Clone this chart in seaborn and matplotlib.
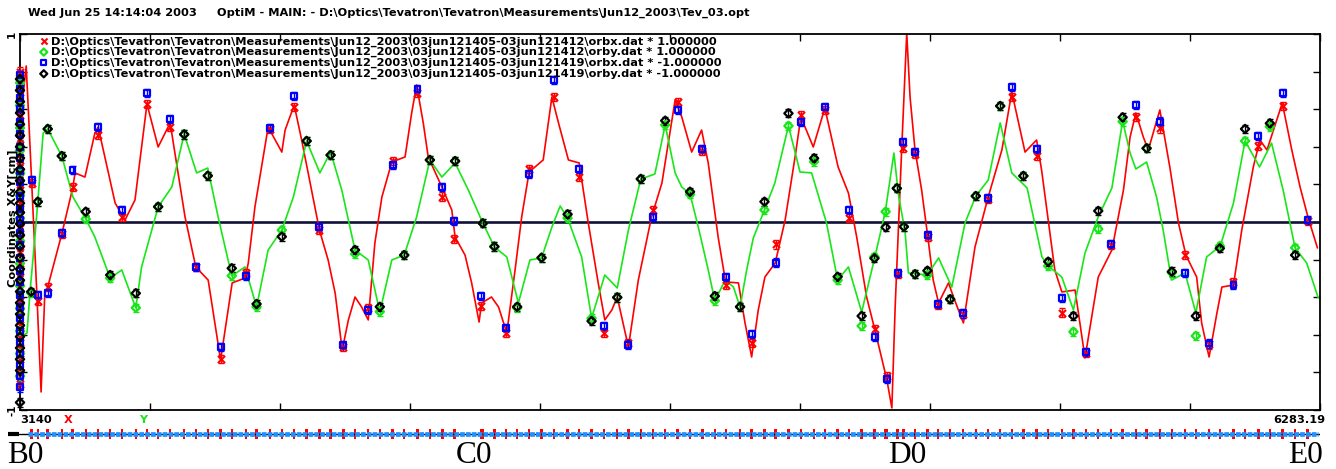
import matplotlib
matplotlib.use("Agg")
import matplotlib.pyplot as plt
import matplotlib.transforms as mtransforms
import numpy as np
import seaborn as sns

sns.set_style("white")
plt.rcParams["font.family"] = ["DejaVu Sans"]
plt.rcParams["text.color"] = "black"
plt.rcParams["lines.scale_dashes"] = False

# ------------------------------------------------------------------
# data
# ------------------------------------------------------------------
s_start, s_end = 3140.0, 6283.19

# horizontal BPMs: red x = orbx 121412 (*1), blue square = orbx 121419 (*-1)
h_bpm_s = [3168, 3184, 3207, 3241, 3267, 3328, 3387, 3447, 3503, 3565,
           3625, 3686, 3744, 3803, 3864, 3922, 3981, 4041, 4101, 4161,
           4189, 4255, 4315, 4371, 4431, 4492, 4552, 4611, 4670, 4730,
           4790, 4847, 4909, 4967, 5028, 5086, 5145, 5207, 5236, 5262,
           5276, 5304, 5335, 5360, 5420, 5481, 5538, 5598, 5659, 5717,
           5778, 5838, 5896, 5957, 6015, 6074, 6134, 6193, 6253]
h_x_a = [0.209, -0.419, -0.347, -0.064, 0.188, 0.463, 0.028, 0.628, 0.507, -0.241,
         -0.730, -0.270, 0.493, 0.610, -0.043, -0.663, -0.459, 0.326, 0.685, 0.135,
         -0.092, -0.447, -0.589, 0.280, 0.666, 0.241, -0.589, -0.645, 0.064, 0.640,
         0.379, -0.335, -0.645, -0.119, 0.569, 0.596, 0.020, -0.569, -0.819, -0.278,
         0.392, 0.362, -0.078, -0.441, -0.491, 0.121, 0.666, 0.351, -0.482, -0.695,
         -0.122, 0.557, 0.498, -0.176, -0.651, -0.318, 0.404, 0.617, 0.007]
h_x_b = [0.223, -0.388, -0.379, -0.057, 0.277, 0.504, 0.064, 0.685, 0.546, -0.238,
         -0.666, -0.287, 0.499, 0.670, -0.025, -0.654, -0.468, 0.303, 0.706, 0.185,
         0.007, -0.392, -0.565, 0.254, 0.755, 0.282, -0.553, -0.652, 0.025, 0.596,
         0.387, -0.294, -0.597, -0.216, 0.530, 0.610, 0.064, -0.610, -0.837, -0.272,
         0.427, 0.371, -0.071, -0.436, -0.486, 0.126, 0.720, 0.388, -0.403, -0.690,
         -0.117, 0.622, 0.534, -0.270, -0.646, -0.335, 0.457, 0.688, 0.012]

# vertical BPMs: green diamond = orby 121412 (*1), black diamond = orby 121419 (*-1)
v_bpm_s = [3167, 3183, 3207, 3241, 3299, 3358, 3420, 3474, 3537, 3594,
           3652, 3712, 3773, 3833, 3891, 3950, 4010, 4069, 4131, 4192,
           4259, 4287, 4342, 4401, 4464, 4522, 4584, 4641, 4700, 4760,
           4820, 4881, 4940, 4998, 5060, 5117, 5175, 5206, 5233, 5260,
           5277, 5304, 5334, 5389, 5451, 5510, 5566, 5626, 5687, 5747,
           5806, 5864, 5925, 5983, 6041, 6102, 6162, 6223]
v_y_a = [-0.378, 0.108, 0.495, 0.351, 0.016, -0.299, -0.456, 0.081, 0.466, 0.246,
         -0.286, -0.451, -0.043, 0.431, 0.356, -0.170, -0.477, -0.176, 0.330, 0.324,
         -0.007, -0.131, -0.457, -0.190, 0.021, -0.512, -0.401, 0.229, 0.516, 0.147,
         -0.419, -0.451, 0.064, 0.511, 0.321, -0.309, -0.553, -0.185, 0.055, 0.179,
         -0.025, -0.278, -0.282, -0.411, 0.138, 0.617, 0.245, -0.234, -0.584, -0.037,
         0.534, 0.392, -0.270, -0.606, -0.128, 0.431, 0.507, -0.137]
v_y_b = [-0.371, 0.108, 0.495, 0.351, 0.055, -0.282, -0.379, 0.081, 0.466, 0.246,
         -0.246, -0.436, -0.078, 0.431, 0.356, -0.149, -0.451, -0.176, 0.330, 0.324,
         -0.007, -0.131, -0.451, -0.190, 0.041, -0.527, -0.401, 0.229, 0.539, 0.161,
         -0.394, -0.451, 0.108, 0.578, 0.339, -0.291, -0.500, -0.193, -0.028, 0.179,
         -0.025, -0.278, -0.259, -0.411, 0.138, 0.617, 0.245, -0.211, -0.500, 0.059,
         0.557, 0.392, -0.264, -0.500, -0.140, 0.495, 0.525, -0.176]

# BPMs without a position in the file end up stacked at the left edge
edge_x_a = [0.80, 0.74, 0.69, 0.63, 0.57, 0.50, 0.44, 0.37, 0.30, 0.24, 0.17, 0.10, 0.04, -0.03,
            -0.09, -0.16, -0.22, -0.29, -0.35, -0.42, -0.48, -0.55, -0.61, -0.67, -0.73, -0.80, -0.86]
edge_x_b = [0.78, 0.71, 0.66, 0.60, 0.53, 0.47, 0.40, 0.34, 0.27, 0.21, 0.14, 0.07, 0.01, -0.06,
            -0.12, -0.19, -0.26, -0.32, -0.39, -0.45, -0.51, -0.58, -0.64, -0.70, -0.76, -0.82, -0.88]
edge_y_a = [0.74, 0.62, 0.50, 0.38, 0.26, 0.14, 0.02, -0.10, -0.22, -0.34, -0.46, -0.58, -0.70, -0.82]
edge_y_b = [0.76, 0.70, 0.64, 0.58, 0.52, 0.46, 0.40, 0.34, 0.28, 0.22, 0.16, 0.10, 0.05, -0.01,
            -0.07, -0.13, -0.19, -0.25, -0.31, -0.37, -0.43, -0.49, -0.55, -0.61, -0.67, -0.73,
            -0.79, -0.96]

meas_err = 0.022

# model orbit (OptiM fit), X in red
model_x_s = [3141, 3155, 3159, 3168, 3180, 3191, 3200, 3207, 3241, 3268,
             3273, 3297, 3321, 3329, 3370, 3394, 3418, 3447, 3474, 3503,
             3539, 3565, 3595, 3625, 3653, 3684, 3692, 3708, 3740, 3757,
             3773, 3781, 3803, 3821, 3845, 3864, 3885, 3902, 3919, 3934,
             3950, 3966, 3982, 3998, 4015, 4039, 4071, 4087, 4099, 4115,
             4127, 4160, 4184, 4192, 4216, 4232, 4250, 4256, 4280, 4297,
             4317, 4337, 4353, 4371, 4405, 4426, 4442, 4466, 4492, 4514,
             4538, 4554, 4571, 4584, 4611, 4635, 4667, 4692, 4724, 4740,
             4764, 4788, 4804, 4828, 4846, 4877, 4893, 4909, 4925, 4941,
             4966, 4990, 5014, 5028, 5058, 5086, 5118, 5143, 5163, 5187,
             5207, 5236, 5248, 5256, 5272, 5284, 5292, 5304, 5320, 5335,
             5348, 5361, 5385, 5397, 5421, 5449, 5481, 5514, 5538, 5570,
             5598, 5610, 5642, 5659, 5691, 5715, 5747, 5780, 5808, 5824,
             5838, 5856, 5868, 5896, 5920, 5941, 5959, 5985, 5997, 6015,
             6034, 6046, 6074, 6094, 6122, 6138, 6155, 6192, 6215, 6235,
             6254, 6277]
model_x = [0.543, 0.830, 0.649, 0.223, -0.346, -0.904, -0.378, -0.346, -0.064, 0.186,
           0.261, 0.239, 0.473, 0.505, 0.101, 0.011, 0.117, 0.628, 0.399, 0.527,
           0.027, -0.239, -0.309, -0.734, -0.324, -0.298, -0.218, 0.080, 0.505, 0.436,
           0.372, 0.489, 0.622, 0.436, 0.170, -0.043, -0.202, -0.378, -0.681, -0.521,
           -0.399, -0.452, -0.521, -0.112, 0.133, 0.319, 0.346, 0.580, 0.729, 0.527,
           0.346, 0.186, 0.064, -0.080, -0.176, -0.324, -0.532, -0.431, -0.399, -0.452,
           -0.590, -0.255, 0.027, 0.266, 0.330, 0.665, 0.527, 0.330, 0.314, -0.005,
           -0.324, -0.521, -0.468, -0.399, -0.665, -0.309, 0.027, 0.207, 0.649, 0.559,
           0.372, 0.489, 0.314, -0.080, -0.319, -0.324, -0.537, -0.718, -0.468, -0.293,
           -0.218, 0.011, 0.346, 0.559, 0.399, 0.606, 0.293, 0.154, -0.080, -0.399,
           -0.574, -0.840, -0.989, -0.452, 0.399, 1.005, 0.665, 0.383, 0.170, -0.080,
           -0.309, -0.431, -0.324, -0.399, -0.537, -0.133, 0.133, 0.383, 0.691, 0.372,
           0.436, 0.277, -0.255, -0.372, -0.362, -0.723, -0.293, -0.149, 0.170, 0.452,
           0.580, 0.452, 0.383, 0.596, 0.293, -0.005, -0.176, -0.293, -0.537, -0.718,
           -0.484, -0.346, -0.335, -0.043, 0.293, 0.436, 0.383, 0.633, 0.383, 0.186,
           0.027, -0.138]

# model orbit, Y in green
model_y_s = [3150, 3157, 3164, 3176, 3183, 3196, 3207, 3241, 3268, 3299,
             3321, 3358, 3386, 3420, 3434, 3474, 3507, 3537, 3567, 3594,
             3619, 3652, 3684, 3712, 3740, 3773, 3801, 3833, 3865, 3891,
             3918, 3950, 3982, 4010, 4039, 4069, 4099, 4131, 4160, 4192,
             4224, 4259, 4287, 4317, 4345, 4373, 4401, 4426, 4446, 4464,
             4498, 4522, 4554, 4584, 4611, 4641, 4675, 4700, 4724, 4740,
             4760, 4780, 4804, 4820, 4845, 4865, 4881, 4897, 4913, 4940,
             4965, 4998, 5026, 5054, 5090, 5117, 5143, 5175, 5207, 5232,
             5253, 5264, 5280, 5288, 5334, 5361, 5393, 5425, 5451, 5481,
             5510, 5538, 5575, 5611, 5626, 5659, 5687, 5715, 5747, 5780,
             5806, 5824, 5838, 5864, 5888, 5904, 5924, 5957, 5983, 6009,
             6042, 6074, 6102, 6137, 6166, 6194, 6223, 6251, 6279]
model_y = [-0.601, -0.590, -0.378, -0.080, 0.106, 0.473, 0.495, 0.351, 0.133, 0.016,
           -0.080, -0.298, -0.255, -0.457, -0.239, 0.080, 0.186, 0.468, 0.261, 0.287,
           0.027, -0.287, -0.239, -0.452, -0.149, -0.043, 0.133, 0.431, 0.261, 0.372,
           0.170, -0.149, -0.202, -0.479, -0.202, -0.176, 0.027, 0.330, 0.239, 0.314,
           0.170, -0.005, -0.133, -0.186, -0.431, -0.202, -0.191, -0.027, 0.085, 0.021,
           -0.186, -0.511, -0.282, -0.351, -0.043, 0.229, 0.255, 0.516, 0.261, 0.186,
           0.149, -0.027, -0.255, -0.420, -0.309, -0.346, -0.452, -0.255, -0.085, 0.064,
           0.207, 0.511, 0.266, 0.261, -0.005, -0.309, -0.239, -0.479, -0.186, 0.053,
           0.367, 0.144, -0.053, -0.271, -0.282, -0.191, -0.346, -0.005, 0.138, 0.223,
           0.527, 0.261, 0.181, -0.186, -0.234, -0.293, -0.468, -0.165, 0.027, 0.181,
           0.537, 0.367, 0.282, 0.319, 0.133, -0.043, -0.309, -0.271, -0.484, -0.186,
           -0.128, 0.101, 0.431, 0.293, 0.420, 0.170, -0.138, -0.218, -0.404]

# sector names under the lattice strip
sector_names = ["B0", "C0", "D0", "E0"]
sector_s = [3152, 4238, 5285, 6247]

legend_labels = [
    r"D:\Optics\Tevatron\Tevatron\Measurements\Jun12_2003\03jun121405-03jun121412\orbx.dat * 1.000000",
    r"D:\Optics\Tevatron\Tevatron\Measurements\Jun12_2003\03jun121405-03jun121412\orby.dat * 1.000000",
    r"D:\Optics\Tevatron\Tevatron\Measurements\Jun12_2003\03jun121405-03jun121419\orbx.dat * -1.000000",
    r"D:\Optics\Tevatron\Tevatron\Measurements\Jun12_2003\03jun121405-03jun121419\orby.dat * -1.000000",
]
title = (r"Wed Jun 25 14:14:04 2003     OptiM - MAIN: - "
         r"D:\Optics\Tevatron\Tevatron\Measurements\Jun12_2003\Tev_03.opt")

RED, GREEN, BLUE, BLACK = "#ff0000", "#19e619", "#0000ff", "#000000"
FS = 8.2

# ------------------------------------------------------------------
W, H = 1336, 469
fig = plt.figure(figsize=(W / 100, H / 100), dpi=100)
ax = fig.add_axes([20 / W, 59 / H, 1300 / W, 376 / H])

# model curves
sns.lineplot(x=model_x_s, y=model_x, sort=False, estimator=None, color=RED, lw=1.2, ax=ax)
sns.lineplot(x=model_y_s, y=model_y, sort=False, estimator=None, color=GREEN, lw=1.2, ax=ax)
ax.axhline(0, color="#101038", lw=1.9, zorder=1)

# measurements
series = [
    (h_bpm_s, h_x_a, edge_x_a, RED, "x"),
    (v_bpm_s, v_y_a, edge_y_a, GREEN, "D"),
    (h_bpm_s, h_x_b, edge_x_b, BLUE, "s"),
    (v_bpm_s, v_y_b, edge_y_b, BLACK, "D"),
]
handles = []
for s_vals, vals, edge_vals, col, mk in series:
    xs = list(s_vals) + [s_start] * len(edge_vals)
    ys = list(vals) + list(edge_vals)
    ax.errorbar(xs, ys, yerr=meas_err, fmt="none", ecolor=col, elinewidth=1.0,
                capsize=2.5, capthick=1.0, zorder=3, clip_on=False)
    if mk == "x":
        sns.scatterplot(x=xs, y=ys, marker="x", color=col, s=26, linewidth=1.5,
                        ax=ax, zorder=4, clip_on=False)
    else:
        sns.scatterplot(x=xs, y=ys, marker=mk, color=col, facecolor="none", edgecolor=col,
                        s=18, linewidth=1.6, ax=ax, zorder=4, clip_on=False)
    handles.append(ax.collections[-1])

ax.set_xlim(s_start, s_end)
ax.set_ylim(-1, 1)
ax.set_xticks(np.linspace(s_start, s_end, 11))
ax.set_xticklabels([])
yt = np.linspace(-1, 1, 11)
ax.set_yticks(yt)
ax.set_yticklabels(["-1"] + [""] * 9 + ["1"], rotation=90, va="center",
                   fontsize=7.5, fontweight="bold", color="black")
ax.tick_params(axis="both", direction="in", length=5, width=1.0, color="black",
               top=True, bottom=True, left=True, right=True, pad=2)
for sp in ax.spines.values():
    sp.set_color("black")
    sp.set_linewidth(1.3)
ax.set_xlabel("")
ax.set_ylabel("")

leg = ax.legend(handles, legend_labels, loc="upper left", bbox_to_anchor=(0.015, 0.994),
                frameon=False, prop=dict(weight="bold", size=FS), handletextpad=0.25,
                labelspacing=0.05, borderaxespad=0.0, borderpad=0.0,
                handlelength=0.75, markerscale=0.85)

# texts around the frame
fig.text(28 / W, 1 - 13 / H, title, ha="left", va="center", fontsize=FS, fontweight="bold")
fig.text(13 / W, 1 - 218 / H, "Coordinates X&Y[cm]", rotation=90, ha="center",
         va="center", fontsize=8.2, fontweight="bold")
fig.text(20 / W, 1 - 420 / H, "3140", ha="left", va="center", fontsize=FS, fontweight="bold")
fig.text(68 / W, 1 - 420 / H, "X", ha="center", va="center", fontsize=FS,
         fontweight="bold", color=RED)
fig.text(143 / W, 1 - 420 / H, "Y", ha="center", va="center", fontsize=FS,
         fontweight="bold", color=GREEN)
fig.text(1325 / W, 1 - 420 / H, "6283.19", ha="right", va="center", fontsize=FS,
         fontweight="bold")

# lattice strip
strip = fig.add_axes([8 / W, (H - 440) / H, 1312 / W, 12 / H])
strip.set_xlim(3111, s_end)
strip.set_ylim(-1, 1)
strip.axis("off")
strip.plot([3111, s_end], [0, 0], color="black", lw=1.0)
strip.plot([3111, 3138], [0, 0], color="black", lw=3.0, solid_capstyle="butt")
strip.plot([s_start + 20, s_end - 4], [0, 0], color="#1e90ff", lw=3.4,
           dashes=(3.4, 0.8), dash_capstyle="butt")
quad_s = sorted(set(h_bpm_s) | set(v_bpm_s))
strip.bar(quad_s, 1.6, width=6, bottom=-0.8, color=RED, linewidth=0)

blend = mtransforms.blended_transform_factory(strip.transData, fig.transFigure)
for name, s in zip(sector_names, sector_s):
    fig.text(s, 1 - 455 / H, name, transform=blend, ha="center", va="center",
             fontsize=22.5, family="Liberation Serif")

fig.savefig("out.png", dpi=100)
